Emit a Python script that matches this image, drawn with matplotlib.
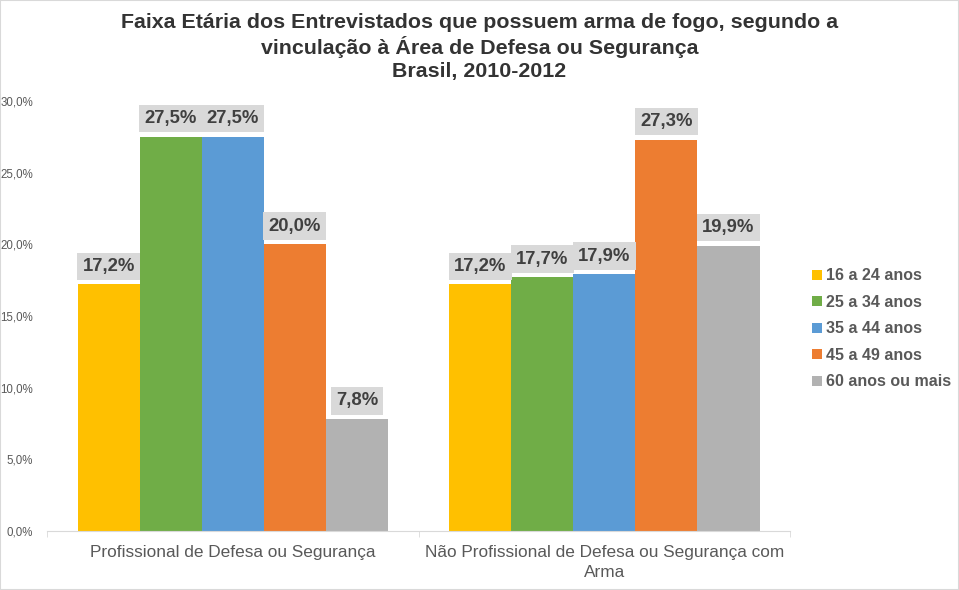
import matplotlib.pyplot as plt
import numpy as np
from matplotlib.patches import Rectangle

plt.rcParams["font.family"] = ["Liberation Sans", "DejaVu Sans"]

categories = ["Profissional de Defesa ou Segurança",
              "Não Profissional de Defesa ou Segurança com\nArma"]
age_groups = ["16 a 24 anos", "25 a 34 anos", "35 a 44 anos",
              "45 a 49 anos", "60 anos ou mais"]
values = [
    [17.2, 17.2],  # 16 a 24
    [27.5, 17.7],  # 25 a 34
    [27.5, 17.9],  # 35 a 44
    [20.0, 27.3],  # 45 a 49
    [7.8, 19.9],   # 60+
]
colors = ["#FFC000", "#70AD47", "#5B9BD5", "#ED7D31", "#B2B2B2"]
yticks = [0, 5, 10, 15, 20, 25, 30]

fig = plt.figure(figsize=(9.59, 5.9), dpi=100)
ax = fig.add_axes([0.049, 0.1, 0.775, 0.729])

x = np.arange(len(categories))
width = 0.167
for i, (label, vals, col) in enumerate(zip(age_groups, values, colors)):
    pos = x + (i - 2) * width
    ax.bar(pos, vals, width=width, color=col, label=label)
    for px, v in zip(pos, vals):
        ax.annotate(f"{v:.1f}%".replace(".", ","), (px, v),
                    xytext=(0, 7), textcoords="offset points",
                    ha="center", va="bottom", fontsize=13.3, fontweight="bold",
                    color="#404040",
                    bbox=dict(boxstyle="square,pad=0.28", fc="#D9D9D9", ec="none"))

ax.set_xlim(-0.5, 1.5)
ax.set_ylim(0, 30)
ax.set_yticks(yticks)
ax.set_yticklabels([f"{t:.1f}%".replace(".", ",") for t in yticks],
                   fontsize=8.3, color="#595959")
ax.set_xticks(x)
ax.set_xticklabels(categories, fontsize=12.4, color="#595959")
for t in ax.get_xticklabels():
    t.set_linespacing(1.4)
ax.tick_params(axis="x", length=0, pad=10)
ax.tick_params(axis="y", length=0, pad=10)
ax.set_xticks([-0.5, 0.5, 1.5], minor=True)
ax.tick_params(axis="x", which="minor", length=4, color="#D9D9D9")

for s in ["top", "right", "left"]:
    ax.spines[s].set_visible(False)
ax.spines["bottom"].set_color("#D9D9D9")

fig.suptitle("Faixa Etária dos Entrevistados que possuem arma de fogo, segundo a\n"
             "vinculação à Área de Defesa ou Segurança\nBrasil, 2010-2012",
             x=0.5, y=0.978, fontsize=15.4, fontweight="bold", color="#333333",
             linespacing=1.25)

leg = ax.legend(loc="center left", bbox_to_anchor=(1.01, 0.47), frameon=False,
                handlelength=0.6, handleheight=0.6, handletextpad=0.3,
                labelspacing=0.72,
                prop={"size": 11.5, "weight": "bold"})
for t in leg.get_texts():
    t.set_color("#595959")

fig.patches.append(Rectangle((0, 0), 1, 1, transform=fig.transFigure,
                             fill=False, ec="#D9D9D9", lw=1.5))

fig.savefig("out.png", dpi=100)
